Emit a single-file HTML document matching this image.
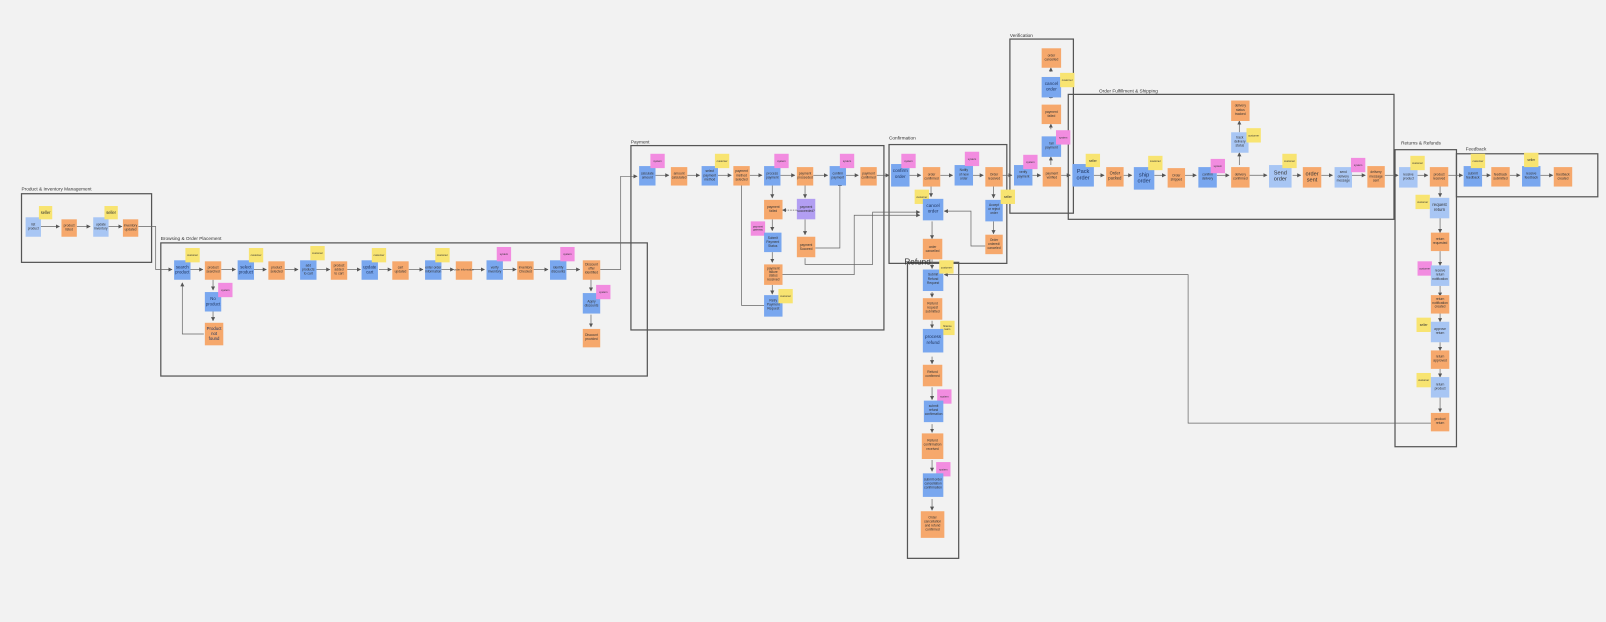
<!DOCTYPE html>
<html><head><meta charset="utf-8"><style>
html,body{margin:0;padding:0;background:#f2f2f2;}
svg{display:block}
.o{fill:#f6a86c}.b{fill:#79a7ef}.lb{fill:#a8c6f4}.y{fill:#f8e471}.p{fill:#f28ce0}.v{fill:#b29ef2}
text{font-family:"Liberation Sans",sans-serif;fill:#333;text-anchor:middle}
.t{font-size:3.2px}.m{font-size:5.5px;fill:#1f3560}.s{font-size:2.6px}
.fl{font-size:4.6px;text-anchor:start;fill:#333}
.fr{fill:none;stroke:#555;stroke-width:1.2}
.c{fill:none;stroke:#666;stroke-width:0.7;marker-end:url(#a)}
</style></head><body>
<svg width="1606" height="622" viewBox="0 0 1568 607" xmlns="http://www.w3.org/2000/svg">
<defs><marker id="a" markerWidth="4" markerHeight="4" refX="3.5" refY="2" orient="auto" markerUnits="userSpaceOnUse"><path d="M0,0 L4,2 L0,4z" fill="#555"/></marker></defs>
<rect width="1568" height="607" fill="#f2f2f2"/>

<!-- frames -->
<rect class="fr" x="21" y="189" width="127" height="67"/><text class="fl" x="21" y="186">Product &amp; Inventory Management</text>
<rect class="fr" x="157" y="237" width="475" height="130"/><text class="fl" x="157" y="234">Browsing &amp; Order Placement</text>
<rect class="fr" x="616" y="142" width="247" height="180"/><text class="fl" x="616" y="140">Payment</text>
<rect class="fr" x="868" y="141" width="115" height="116"/><text class="fl" x="868" y="136">Confirmation</text>
<rect class="fr" x="986" y="38" width="62" height="170"/><text class="fl" x="986" y="36">Verification</text>
<rect class="fr" x="1043" y="92" width="318" height="122"/><text class="fl" x="1073" y="90">Order Fulfillment &amp; Shipping</text>
<rect class="fr" x="1362" y="146" width="60" height="290"/><text class="fl" x="1368" y="141">Returns &amp; Refunds</text>
<rect class="fr" x="1422" y="150" width="138" height="42"/><text class="fl" x="1431" y="147">Feedback</text>
<rect class="fr" x="886" y="256" width="50" height="289"/><text class="fl" x="883" y="258" style="font-size:8px">Refund</text>

<!-- connectors -->
<g>
<path class="c" d="M40,221H58"/><path class="c" d="M75,221H88"/><path class="c" d="M106,221H119"/>
<path class="c" d="M135,221H152V263H168"/>
<path class="c" d="M186,263H198"/><path class="c" d="M216,263H230"/><path class="c" d="M248,263H260"/><path class="c" d="M277,263H291"/><path class="c" d="M309,263H322"/><path class="c" d="M339,263H352"/><path class="c" d="M370,263H382"/><path class="c" d="M399,263H413"/><path class="c" d="M431,263H443"/><path class="c" d="M461,263H473"/><path class="c" d="M491,263H504"/><path class="c" d="M521,263H535"/><path class="c" d="M553,263H566"/>
<path class="c" d="M208,273V283"/><path class="c" d="M208,304V313"/><path class="c" d="M199,326H178V276"/>
<path class="c" d="M577,273V284"/><path class="c" d="M577,307V319"/>
<path class="c" d="M586,263H606V172H622"/>
<path class="c" d="M640,171H653"/><path class="c" d="M671,171H683"/><path class="c" d="M701,171H714"/><path class="c" d="M732,171H744"/><path class="c" d="M762,171H776"/><path class="c" d="M794,171H808"/><path class="c" d="M826,171H838"/><path class="c" d="M856,171H868"/>
<path class="c" d="M754,181V193"/><path class="c" d="M786,181V193"/><path class="c" d="M778,205H764" style="stroke-dasharray:1.5 1"/><path class="c" d="M786,214V229"/>
<path class="c" d="M754,214V225"/><path class="c" d="M754,246V256"/><path class="c" d="M754,278V287"/>
<path class="c" d="M746,298H724V177"/>
<path class="c" d="M796,242H820V178"/>
<path class="c" d="M786,252V258H852V207H898"/>
<path class="c" d="M764,268H834V210H898"/>
<path class="c" d="M888,171H899"/><path class="c" d="M918,171H930"/><path class="c" d="M950,171H960"/><path class="c" d="M978,171H988"/>
<path class="c" d="M909,181V192"/><path class="c" d="M910,216V233"/><path class="c" d="M970,181V193"/><path class="c" d="M970,216V228"/>
<path class="c" d="M962,240H948V206H922"/>
<path class="c" d="M910,253V262"/><path class="c" d="M910,285V290"/><path class="c" d="M910,313V320"/><path class="c" d="M910,348V355"/><path class="c" d="M910,378V390"/><path class="c" d="M910,414V422"/><path class="c" d="M910,449V460"/><path class="c" d="M910,487V498"/>
<path class="c" d="M1398,413H1160V268H922"/>
<path class="c" d="M1008,171H1016"/><path class="c" d="M1036,171H1045"/>
<path class="c" d="M1026,161V153"/><path class="c" d="M1026,126V121"/><path class="c" d="M1026,96V92"/><path class="c" d="M1026,70V66"/>
<path class="c" d="M1068,171H1078"/><path class="c" d="M1097,171H1105"/><path class="c" d="M1127,171H1138"/><path class="c" d="M1157,171H1168"/><path class="c" d="M1188,171H1200"/><path class="c" d="M1220,171H1237"/><path class="c" d="M1262,171H1270"/><path class="c" d="M1290,171H1301"/><path class="c" d="M1320,171H1333"/><path class="c" d="M1352,171H1365"/><path class="c" d="M1384,171H1394"/><path class="c" d="M1414,171H1428"/><path class="c" d="M1447,171H1455"/><path class="c" d="M1474,171H1484"/><path class="c" d="M1504,171H1516"/>
<path class="c" d="M1210,161V149"/><path class="c" d="M1210,129V118"/>
<path class="c" d="M1406,181V192"/><path class="c" d="M1406,212V227"/><path class="c" d="M1406,245V259"/><path class="c" d="M1406,279V289"/><path class="c" d="M1406,306V314"/><path class="c" d="M1406,334V342"/><path class="c" d="M1406,360V368"/><path class="c" d="M1406,388V402"/>
</g>

<!-- Product & Inventory -->
<rect class="lb" x="25" y="212" width="15" height="19"/><text class="t" x="32.5" y="220">list<tspan x="32.5" dy="4">product</tspan></text>
<rect class="y" x="38" y="201" width="13" height="13"/><text class="t" x="44.5" y="209" style="font-size:4px">seller</text>
<rect class="o" x="60" y="214" width="15" height="17"/><text class="t" x="67.5" y="221">product<tspan x="67.5" dy="4">listed</tspan></text>
<rect class="lb" x="91" y="212" width="15" height="19"/><text class="t" x="98.5" y="220">update<tspan x="98.5" dy="4">inventory</tspan></text>
<rect class="y" x="102" y="201" width="13" height="13"/><text class="t" x="108.5" y="209" style="font-size:4px">seller</text>
<rect class="o" x="120" y="214" width="15" height="17"/><text class="t" x="127.5" y="221">inventory<tspan x="127.5" dy="4">updated</tspan></text>

<!-- Browsing -->
<rect class="b" x="170" y="254" width="16" height="19"/><text class="m" x="178" y="262" style="font-size:4.2px">search<tspan x="178" dy="5">product</tspan></text>
<rect class="y" x="181" y="242" width="14" height="14"/><text class="s" x="188" y="250">customer</text>
<rect class="o" x="200" y="255" width="16" height="18"/><text class="t" x="208" y="262">product<tspan x="208" dy="4">searched</tspan></text>
<rect class="b" x="232" y="254" width="16" height="19"/><text class="m" x="240" y="262" style="font-size:4.2px">select<tspan x="240" dy="5">product</tspan></text>
<rect class="y" x="243" y="242" width="14" height="14"/><text class="s" x="250" y="250">customer</text>
<rect class="o" x="262" y="255" width="16" height="18"/><text class="t" x="270" y="262">product<tspan x="270" dy="4">selected</tspan></text>
<rect class="b" x="293" y="254" width="16" height="19"/><text class="t" x="301" y="260">add<tspan x="301" dy="4">products</tspan><tspan x="301" dy="4">to cart</tspan></text>
<rect class="y" x="303" y="240" width="14" height="14"/><text class="s" x="310" y="248">customer</text>
<rect class="o" x="323" y="255" width="16" height="18"/><text class="t" x="331" y="260">product<tspan x="331" dy="4">added</tspan><tspan x="331" dy="4">to cart</tspan></text>
<rect class="b" x="353" y="254" width="16" height="19"/><text class="m" x="361" y="262" style="font-size:4.2px">update<tspan x="361" dy="5">cart</tspan></text>
<rect class="y" x="363" y="242" width="14" height="14"/><text class="s" x="370" y="250">customer</text>
<rect class="o" x="383" y="255" width="16" height="18"/><text class="t" x="391" y="262">cart<tspan x="391" dy="4">updated</tspan></text>
<rect class="b" x="415" y="254" width="16" height="19"/><text class="t" x="423" y="262">enter order<tspan x="423" dy="4">information</tspan></text>
<rect class="y" x="425" y="242" width="14" height="14"/><text class="s" x="432" y="250">customer</text>
<rect class="o" x="445" y="255" width="16" height="18"/><text class="s" x="453" y="264">order information</text>
<rect class="b" x="475" y="254" width="16" height="19"/><text class="t" x="483" y="262">verify<tspan x="483" dy="4">inventory</tspan></text>
<rect class="p" x="485" y="241" width="14" height="14"/><text class="s" x="492" y="249">system</text>
<rect class="o" x="505" y="255" width="16" height="18"/><text class="t" x="513" y="262">inventory<tspan x="513" dy="4">Checked</tspan></text>
<rect class="b" x="537" y="254" width="16" height="19"/><text class="t" x="545" y="262">identify<tspan x="545" dy="4">discounts</tspan></text>
<rect class="p" x="547" y="241" width="14" height="14"/><text class="s" x="554" y="249">system</text>
<rect class="o" x="569" y="254" width="17" height="19"/><text class="t" x="577.5" y="259">Discount<tspan x="577.5" dy="4">offer</tspan><tspan x="577.5" dy="4">identified</tspan></text>
<rect class="b" x="200" y="285" width="16" height="19"/><text class="m" x="208" y="293" style="font-size:4.2px">No<tspan x="208" dy="5">product</tspan></text>
<rect class="p" x="213" y="276" width="14" height="14"/><text class="s" x="220" y="284">system</text>
<rect class="o" x="200" y="315" width="18" height="22"/><text class="m" x="209" y="322" style="font-size:4.2px">Product<tspan x="209" dy="5">not</tspan><tspan x="209" dy="5">found</tspan></text>
<rect class="b" x="569" y="286" width="17" height="20"/><text class="t" x="577.5" y="295">Apply<tspan x="577.5" dy="4">discounts</tspan></text>
<rect class="p" x="582" y="278" width="14" height="14"/><text class="s" x="589" y="286">system</text>
<rect class="o" x="569" y="321" width="17" height="18"/><text class="t" x="577.5" y="328">Discount<tspan x="577.5" dy="4">provided</tspan></text>

<!-- Payment -->
<rect class="b" x="624" y="162" width="16" height="19"/><text class="t" x="632" y="170">calculate<tspan x="632" dy="4">amount</tspan></text>
<rect class="p" x="635" y="150" width="14" height="14"/><text class="s" x="642" y="158">system</text>
<rect class="o" x="655" y="163" width="16" height="18"/><text class="t" x="663" y="170">amount<tspan x="663" dy="4">calculated</tspan></text>
<rect class="b" x="685" y="162" width="16" height="19"/><text class="t" x="693" y="168">select<tspan x="693" dy="4">payment</tspan><tspan x="693" dy="4">method</tspan></text>
<rect class="y" x="698" y="150" width="14" height="14"/><text class="s" x="705" y="158">customer</text>
<rect class="o" x="716" y="162" width="16" height="19"/><text class="t" x="724" y="168">payment<tspan x="724" dy="4">method</tspan><tspan x="724" dy="4">selected</tspan></text>
<rect class="b" x="746" y="162" width="16" height="19"/><text class="t" x="754" y="170">process<tspan x="754" dy="4">payment</tspan></text>
<rect class="p" x="756" y="150" width="14" height="14"/><text class="s" x="763" y="158">system</text>
<rect class="o" x="778" y="163" width="16" height="18"/><text class="t" x="786" y="170">payment<tspan x="786" dy="4">proceeded</tspan></text>
<rect class="b" x="810" y="162" width="16" height="19"/><text class="t" x="818" y="170">confirm<tspan x="818" dy="4">payment</tspan></text>
<rect class="p" x="820" y="150" width="14" height="14"/><text class="s" x="827" y="158">system</text>
<rect class="o" x="840" y="163" width="16" height="18"/><text class="t" x="848" y="170">payment<tspan x="848" dy="4">confirmed</tspan></text>
<rect class="o" x="746" y="195" width="18" height="19"/><text class="t" x="755" y="203">payment<tspan x="755" dy="4">failed</tspan></text>
<rect class="v" x="778" y="194" width="18" height="20"/><text class="t" x="787" y="203">payment<tspan x="787" dy="4">succeeded?</tspan></text>
<rect class="p" x="733" y="216" width="14" height="14"/><text class="s" x="740" y="222">payment<tspan x="740" dy="3">gateway</tspan></text>
<rect class="b" x="746" y="227" width="17" height="19"/><text class="t" x="754.5" y="233">Submit<tspan x="754.5" dy="4">Payment</tspan><tspan x="754.5" dy="4">Status</tspan></text>
<rect class="o" x="746" y="258" width="18" height="20"/><text class="t" x="755" y="263">payment<tspan x="755" dy="3.5">failure</tspan><tspan x="755" dy="3.5">status</tspan><tspan x="755" dy="3.5">received</tspan></text>
<rect class="b" x="746" y="288" width="18" height="21"/><text class="t" x="755" y="294">Retry<tspan x="755" dy="4">Payment</tspan><tspan x="755" dy="4">Request</tspan></text>
<rect class="y" x="760" y="282" width="14" height="14"/><text class="s" x="767" y="290">customer</text>
<rect class="o" x="778" y="231" width="18" height="20"/><text class="t" x="787" y="240">payment<tspan x="787" dy="4">Succeed</tspan></text>

<!-- Confirmation -->
<rect class="b" x="870" y="160" width="18" height="22"/><text class="m" x="879" y="168" style="font-size:4.5px">confirm<tspan x="879" dy="5.5">order</tspan></text>
<rect class="p" x="880" y="150" width="14" height="14"/><text class="s" x="887" y="158">system</text>
<rect class="o" x="901" y="163" width="17" height="19"/><text class="t" x="909.5" y="171">order<tspan x="909.5" dy="4">confirmed</tspan></text>
<rect class="b" x="932" y="161" width="18" height="20"/><text class="t" x="941" y="167">Notify<tspan x="941" dy="4">of new</tspan><tspan x="941" dy="4">order</tspan></text>
<rect class="p" x="942" y="148" width="14" height="14"/><text class="s" x="949" y="156">system</text>
<rect class="o" x="962" y="163" width="17" height="19"/><text class="t" x="970.5" y="171">Order<tspan x="970.5" dy="4">received</tspan></text>
<rect class="y" x="893" y="185" width="14" height="14"/><text class="s" x="900" y="193">customer</text>
<rect class="b" x="901" y="194" width="20" height="21"/><text class="m" x="911" y="202" style="font-size:4.5px">cancel<tspan x="911" dy="5.5">order</tspan></text>
<rect class="o" x="901" y="233" width="19" height="20"/><text class="t" x="910.5" y="242">order<tspan x="910.5" dy="4">cancelled</tspan></text>
<rect class="b" x="962" y="195" width="17" height="21"/><text class="t" x="970.5" y="201">Accept<tspan x="970.5" dy="4">or reject</tspan><tspan x="970.5" dy="4">order</tspan></text>
<rect class="y" x="977" y="185" width="14" height="14"/><text class="t" x="984" y="193">seller</text>
<rect class="o" x="962" y="229" width="17" height="19"/><text class="t" x="970.5" y="235">Order<tspan x="970.5" dy="4">ordered/</tspan><tspan x="970.5" dy="4">canceled</tspan></text>

<!-- Verification -->
<rect class="o" x="1017" y="47" width="19" height="19"/><text class="t" x="1026.5" y="55">order<tspan x="1026.5" dy="4">cancelled</tspan></text>
<rect class="b" x="1017" y="75" width="19" height="20"/><text class="m" x="1026.5" y="83" style="font-size:4.5px">cancel<tspan x="1026.5" dy="5">order</tspan></text>
<rect class="y" x="1035" y="71" width="14" height="14"/><text class="s" x="1042" y="79">customer</text>
<rect class="o" x="1017" y="102" width="19" height="19"/><text class="t" x="1026.5" y="110">payment<tspan x="1026.5" dy="4">failed</tspan></text>
<rect class="b" x="1017" y="133" width="19" height="20"/><text class="t" x="1026.5" y="141">fail<tspan x="1026.5" dy="4">payment</tspan></text>
<rect class="p" x="1031" y="127" width="14" height="14"/><text class="s" x="1038" y="135">system</text>
<rect class="b" x="990" y="161" width="18" height="20"/><text class="t" x="999" y="169">verify<tspan x="999" dy="4">payment</tspan></text>
<rect class="p" x="999" y="151" width="14" height="14"/><text class="s" x="1006" y="159">system</text>
<rect class="o" x="1018" y="163" width="18" height="19"/><text class="t" x="1027" y="170">payment<tspan x="1027" dy="4">verified</tspan></text>

<!-- Fulfillment -->
<rect class="b" x="1047" y="160" width="21" height="22"/><text class="m" x="1057.5" y="169">Pack<tspan x="1057.5" dy="6">order</tspan></text>
<rect class="y" x="1060" y="150" width="14" height="13"/><text class="t" x="1067" y="158">seller</text>
<rect class="o" x="1080" y="163" width="17" height="19"/><text class="t" x="1088.5" y="170" style="font-size:4px">Order<tspan x="1088.5" dy="5">packed</tspan></text>
<rect class="b" x="1107" y="163" width="20" height="22"/><text class="m" x="1117" y="172">ship<tspan x="1117" dy="6">order</tspan></text>
<rect class="y" x="1121" y="152" width="14" height="14"/><text class="s" x="1128" y="158">customer</text>
<rect class="o" x="1140" y="164" width="17" height="19"/><text class="t" x="1148.5" y="172">Order<tspan x="1148.5" dy="4">shipped</tspan></text>
<rect class="b" x="1170" y="163" width="18" height="20"/><text class="t" x="1179" y="171">confirm<tspan x="1179" dy="4">delivery</tspan></text>
<rect class="p" x="1182" y="155" width="14" height="14"/><text class="s" x="1189" y="163">system</text>
<rect class="o" x="1202" y="163" width="18" height="20"/><text class="t" x="1211" y="171">delivery<tspan x="1211" dy="4">confirmed</tspan></text>
<rect class="lb" x="1202" y="129" width="17" height="20"/><text class="t" x="1210.5" y="135">track<tspan x="1210.5" dy="4">delivery</tspan><tspan x="1210.5" dy="4">status</tspan></text>
<rect class="y" x="1217" y="125" width="14" height="14"/><text class="s" x="1224" y="133">customer</text>
<rect class="o" x="1202" y="98" width="18" height="20"/><text class="t" x="1211" y="104">delivery<tspan x="1211" dy="4">status</tspan><tspan x="1211" dy="4">tracked</tspan></text>
<rect class="lb" x="1239" y="161" width="22" height="22"/><text class="m" x="1250" y="170" style="fill:#333">Send<tspan x="1250" dy="6">order</tspan></text>
<rect class="y" x="1252" y="150" width="14" height="14"/><text class="s" x="1259" y="158">customer</text>
<rect class="o" x="1272" y="163" width="18" height="20"/><text class="m" x="1281" y="171" style="fill:#333">order<tspan x="1281" dy="6">sent</tspan></text>
<rect class="lb" x="1303" y="163" width="17" height="20"/><text class="t" x="1311.5" y="169">send<tspan x="1311.5" dy="4">delivery</tspan><tspan x="1311.5" dy="4">message</tspan></text>
<rect class="p" x="1319" y="154" width="14" height="14"/><text class="s" x="1326" y="162">system</text>
<rect class="o" x="1335" y="162" width="17" height="21"/><text class="t" x="1343.5" y="169">delivery<tspan x="1343.5" dy="4">message</tspan><tspan x="1343.5" dy="4">sent</tspan></text>

<!-- Returns -->
<rect class="lb" x="1366" y="163" width="18" height="20"/><text class="t" x="1375" y="171">receive<tspan x="1375" dy="4">product</tspan></text>
<rect class="y" x="1377" y="152" width="14" height="14"/><text class="s" x="1384" y="160">customer</text>
<rect class="o" x="1396" y="163" width="18" height="19"/><text class="t" x="1405" y="171">product<tspan x="1405" dy="4">received</tspan></text>
<rect class="y" x="1382" y="190" width="14" height="14"/><text class="s" x="1389" y="198">customer</text>
<rect class="lb" x="1396" y="193" width="19" height="20"/><text class="m" x="1405.5" y="201" style="font-size:4.2px;fill:#333">request<tspan x="1405.5" dy="5">return</tspan></text>
<rect class="o" x="1397" y="227" width="18" height="18"/><text class="t" x="1406" y="234">return<tspan x="1406" dy="4">requested</tspan></text>
<rect class="p" x="1384" y="255" width="14" height="14"/><text class="s" x="1391" y="263">customer</text>
<rect class="lb" x="1397" y="259" width="18" height="20"/><text class="t" x="1406" y="265">receive<tspan x="1406" dy="4">return</tspan><tspan x="1406" dy="4">notification</tspan></text>
<rect class="o" x="1397" y="288" width="18" height="18"/><text class="t" x="1406" y="293">return<tspan x="1406" dy="3.5">notification</tspan><tspan x="1406" dy="3.5">created</tspan></text>
<rect class="y" x="1383" y="310" width="14" height="14"/><text class="t" x="1390" y="318">seller</text>
<rect class="lb" x="1397" y="314" width="18" height="20"/><text class="t" x="1406" y="322">approve<tspan x="1406" dy="4">return</tspan></text>
<rect class="o" x="1397" y="342" width="18" height="18"/><text class="t" x="1406" y="349">return<tspan x="1406" dy="4">approved</tspan></text>
<rect class="y" x="1383" y="364" width="14" height="14"/><text class="s" x="1390" y="372">customer</text>
<rect class="lb" x="1397" y="368" width="18" height="20"/><text class="t" x="1406" y="376">return<tspan x="1406" dy="4">product</tspan></text>
<rect class="o" x="1397" y="403" width="18" height="18"/><text class="t" x="1406" y="410">product<tspan x="1406" dy="4">return</tspan></text>

<!-- Feedback -->
<rect class="b" x="1429" y="162" width="18" height="20"/><text class="t" x="1438" y="170">submit<tspan x="1438" dy="4">feedback</tspan></text>
<rect class="y" x="1436" y="150" width="14" height="14"/><text class="s" x="1443" y="158">customer</text>
<rect class="o" x="1456" y="163" width="18" height="19"/><text class="t" x="1465" y="171">feedback<tspan x="1465" dy="4">submitted</tspan></text>
<rect class="b" x="1486" y="162" width="18" height="20"/><text class="t" x="1495" y="170">receive<tspan x="1495" dy="4">feedback</tspan></text>
<rect class="y" x="1488" y="149" width="14" height="14"/><text class="t" x="1495" y="157">seller</text>
<rect class="o" x="1517" y="163" width="18" height="19"/><text class="t" x="1526" y="171">feedback<tspan x="1526" dy="4">created</tspan></text>

<!-- Refund -->
<rect class="b" x="901" y="263" width="20" height="21"/><text class="t" x="911" y="269">Submit<tspan x="911" dy="4">Refund</tspan><tspan x="911" dy="4">Request</tspan></text>
<rect class="y" x="917" y="254" width="14" height="13"/><text class="s" x="924" y="262">customer</text>
<rect class="o" x="901" y="291" width="19" height="21"/><text class="t" x="910.5" y="297">Refund<tspan x="910.5" dy="4">request</tspan><tspan x="910.5" dy="4">submitted</tspan></text>
<rect class="y" x="918" y="313" width="14" height="14"/><text class="s" x="925" y="319">finance<tspan x="925" dy="3">team</tspan></text>
<rect class="b" x="901" y="321" width="20" height="23"/><text class="m" x="911" y="330" style="font-size:4.5px">process<tspan x="911" dy="5.5">refund</tspan></text>
<rect class="o" x="901" y="356" width="19" height="21"/><text class="t" x="910.5" y="364">Refund<tspan x="910.5" dy="4">confirmed</tspan></text>
<rect class="p" x="915" y="380" width="14" height="14"/><text class="s" x="922" y="388">system</text>
<rect class="b" x="902" y="391" width="19" height="21"/><text class="t" x="911.5" y="397">submit<tspan x="911.5" dy="4">refund</tspan><tspan x="911.5" dy="4">confirmation</tspan></text>
<rect class="o" x="900" y="423" width="21" height="25"/><text class="t" x="910.5" y="431">Refund<tspan x="910.5" dy="4">confirmation</tspan><tspan x="910.5" dy="4">received</tspan></text>
<rect class="p" x="914" y="451" width="14" height="14"/><text class="s" x="921" y="459">system</text>
<rect class="b" x="901" y="462" width="20" height="23"/><text class="t" x="911" y="469">submit order<tspan x="911" dy="4">cancellation</tspan><tspan x="911" dy="4">confirmation</tspan></text>
<rect class="o" x="899" y="499" width="23" height="26"/><text class="t" x="910.5" y="506">Order<tspan x="910.5" dy="4">cancellation</tspan><tspan x="910.5" dy="4">and refund</tspan><tspan x="910.5" dy="4">confirmed</tspan></text>
</svg>
</body></html>
